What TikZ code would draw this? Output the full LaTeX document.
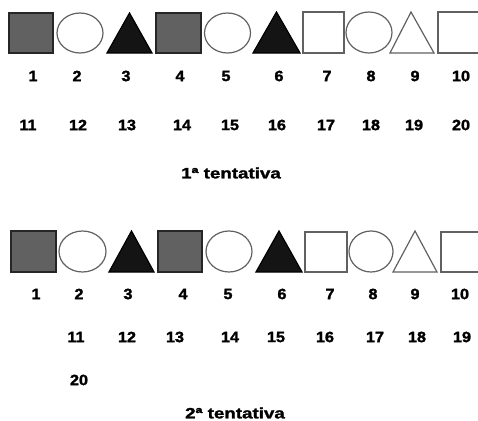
\documentclass[tikz,border=0pt]{standalone}
\usepackage{fontspec}
\setmainfont{Liberation Sans}
\newfontfamily\heavyfont[FakeBold=1.6]{Liberation Sans Bold}
\begin{document}
\begin{tikzpicture}[x=1pt,y=-1pt,
  lbl/.style={font=\fontsize{15}{18}\heavyfont, inner sep=0pt, anchor=center, xscale=1.08},
  ttl/.style={font=\fontsize{15}{18}\heavyfont, inner sep=0pt, anchor=center, xscale=1.25},
  grayfill/.style={fill=black!62, draw=black!85, line width=1.2pt},
  blkfill/.style={fill=black!92, draw=black, line width=1.2pt},
  openline/.style={fill=white, draw=black!62, line width=1.2pt}]
\useasboundingbox (0,0) rectangle (478,420);
\clip (0,0) rectangle (478,420);
% ---------- first attempt shapes ----------
\draw[grayfill] (9,13) rectangle (53,53);
\draw[openline] (80,33) ellipse (23 and 20);
\draw[blkfill] (107,53) -- (129.5,13) -- (152,53) -- cycle;
\draw[grayfill] (156,13) rectangle (201,53);
\draw[openline] (227.5,33) ellipse (23 and 20);
\draw[blkfill] (253,53) -- (276.5,12) -- (300,53) -- cycle;
\draw[openline] (303,12) rectangle (344,53);
\draw[openline] (369,32.5) ellipse (23 and 20.5);
\draw[openline] (390,53) -- (411,12) -- (434,53) -- cycle;
\draw[openline] (438,12) rectangle (490,53);
% labels row 1
\foreach \n/\x in {1/33,2/77,3/126,4/180,5/226,6/279,7/327,8/371,9/415,10/461}
  \node[lbl] (a\n) at (\x,76) {\n};
\foreach \n/\x in {11/28,12/78,13/127,14/182,15/230,16/277,17/326,18/371,19/414,20/461}
  \node[lbl] (a\n) at (\x,125) {\n};
\node[ttl] (t1) at (231,173) {1ª tentativa};
% ---------- second attempt shapes ----------
\draw[grayfill] (11,231) rectangle (56,272);
\draw[openline] (82.5,251.5) ellipse (23.5 and 20.5);
\draw[blkfill] (109,272) -- (131.5,231) -- (154,272) -- cycle;
\draw[grayfill] (158,231) rectangle (202,272);
\draw[openline] (229,251.5) ellipse (23 and 20.5);
\draw[blkfill] (256,272) -- (279,231) -- (302,272) -- cycle;
\draw[openline] (305,232) rectangle (347,272);
\draw[openline] (371,251.5) ellipse (22 and 20.5);
\draw[openline] (393,272) -- (415,231) -- (437,272) -- cycle;
\draw[openline] (441,232) rectangle (490,272);
% labels
\foreach \n/\x in {1/36,2/79,3/128,4/183,5/228,6/282,7/330,8/373,9/415,10/460}
  \node[lbl] (b\n) at (\x,294) {\n};
\foreach \n/\x in {11/76,12/127,13/175,14/230,15/276,16/325,17/375,18/417,19/462}
  \node[lbl] (b\n) at (\x,337) {\n};
\node[lbl] (b20) at (79,380) {20};
\node[ttl] (t2) at (235,413) {2ª tentativa};
\end{tikzpicture}
\end{document}
